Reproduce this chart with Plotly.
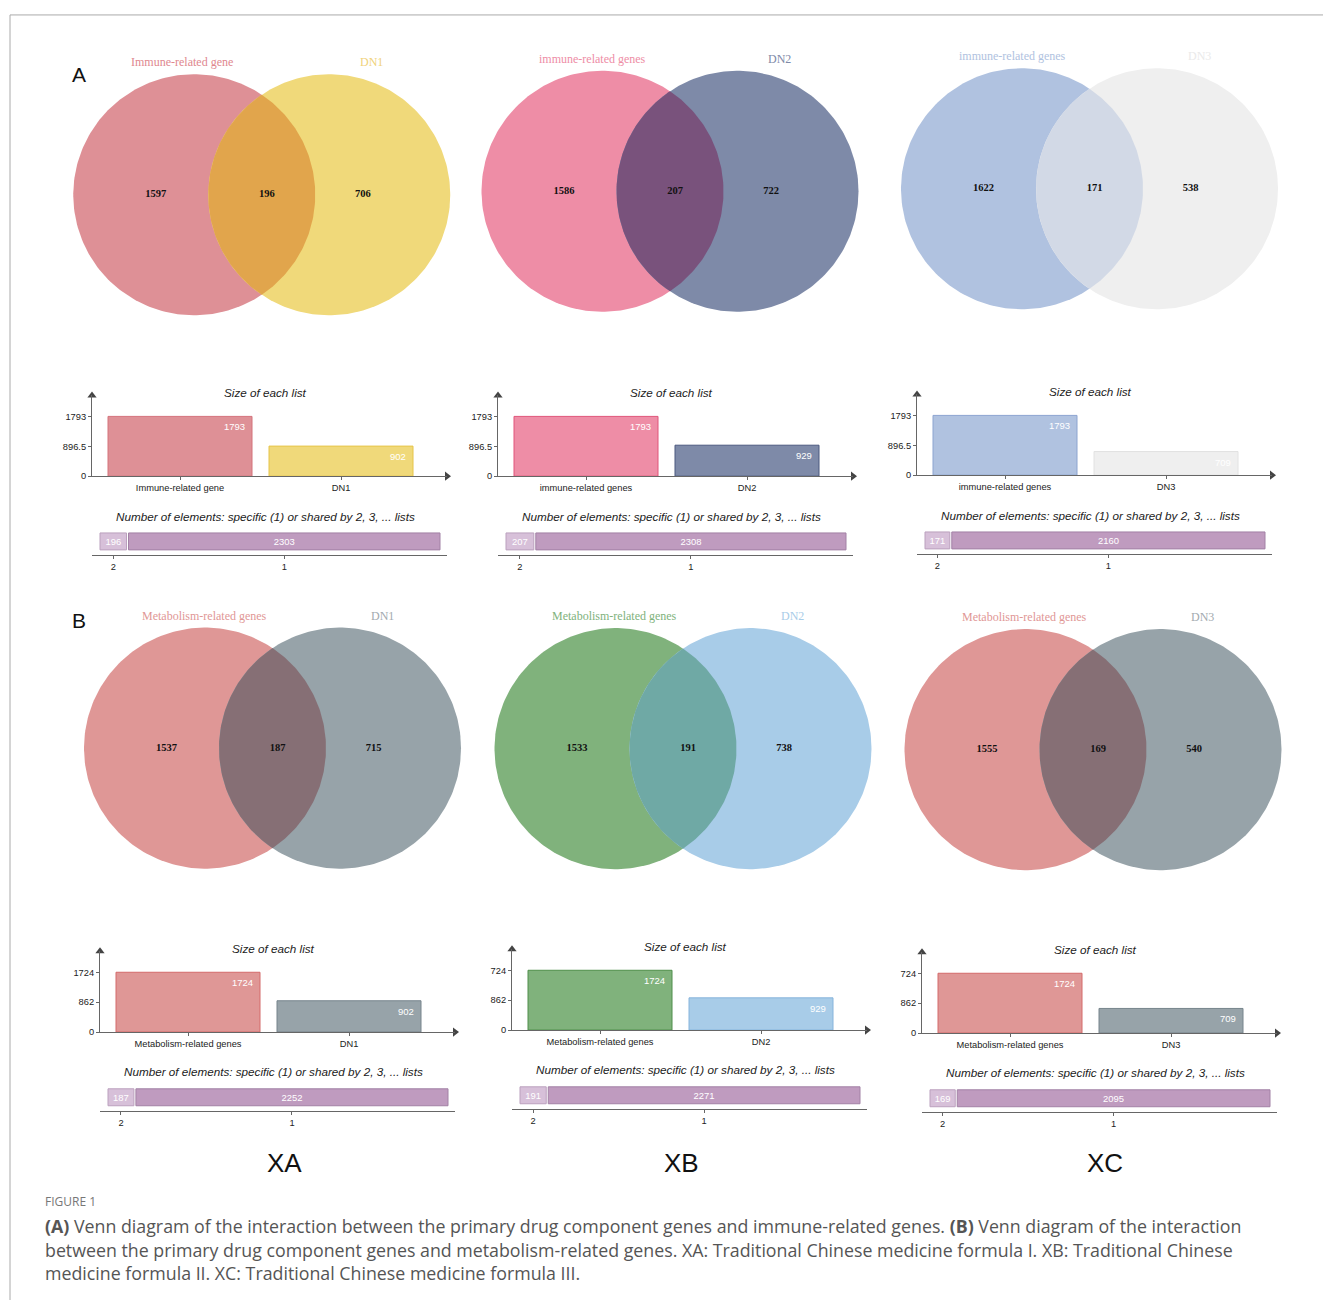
import numpy as np
import plotly.graph_objects as go

W, H = 1323, 1305

# ---------------- data ----------------
left_names = ["Immune-related gene", "immune-related genes", "immune-related genes",
              "Metabolism-related genes", "Metabolism-related genes", "Metabolism-related genes"]
right_names = ["DN1", "DN2", "DN3", "DN1", "DN2", "DN3"]
left_only = [1597, 1586, 1622, 1537, 1533, 1555]
shared = [196, 207, 171, 187, 191, 169]
right_only = [706, 722, 538, 715, 738, 540]
left_size = [1793, 1793, 1793, 1724, 1724, 1724]
right_size = [902, 929, 709, 902, 929, 709]
specific_count = [2303, 2308, 2160, 2252, 2271, 2095]
shared2_count = [196, 207, 171, 187, 191, 169]
ytick_vals = [[0, 896.5, 1793], [0, 896.5, 1793], [0, 896.5, 1793],
              [0, 862, 1724], [0, 862, 1724], [0, 862, 1724]]
ytick_text = [["0", "896.5", "1793"], ["0", "896.5", "1793"], ["0", "896.5", "1793"],
              ["0", "862", "1724"], ["0", "862", "724"], ["0", "862", "724"]]
count_tick_text = ["2", "1"]
group_labels = ["XA", "XB", "XC"]
panel_letters = ["A", "B"]

# ---------------- styles ----------------
c_left = ["#DE9096", "#EE8DA6", "#B0C2E0", "#DF9796", "#80B27C", "#DF9796"]
c_right = ["#F0D97A", "#7E8AA8", "#EFEFEF", "#97A3A9", "#A8CCE8", "#97A3A9"]
c_lens = ["#E1A54C", "#79527C", "#D2D9E6", "#866F75", "#6FA9A5", "#866F75"]
c_left_lab = ["#E0878E", "#EE8DA6", "#B0C2E0", "#DF9796", "#80B27C", "#DF9796"]
c_right_lab = ["#F0D27A", "#7E8AA8", "#EAEAEA", "#A2AAAF", "#A8CCE8", "#A2AAAF"]
c_left_line = ["#D4737B", "#E0557A", "#8CA4D0", "#D46A6A", "#4E8E4A", "#D46A6A"]
c_right_line = ["#E6C449", "#4A587E", "#E2E2E2", "#76848C", "#86B4DC", "#76848C"]
seg_fill = ["#D7C0D9", "#BF9BBF"]
seg_line = ["#BBA0BE", "#A281A5"]

venn_mid = [261.75, 670, 1089.5, 272.5, 683, 1093]
venn_cy = [195.5, 192, 189.5, 751, 751.5, 752.5]
bar_x0 = [92, 498, 917, 100, 512, 922]
bar_y0 = [478, 478, 477, 1036, 1034, 1037]
R, D = 121.0, 135.0

SANS = "Liberation Sans, Arial, sans-serif"
SERIF = "Liberation Serif, Times New Roman, serif"
AX = "#666666"

def px_x(p):
    return p / W

def px_y(p):
    return 1 - p / H

fig = go.Figure()
layout = {}
annotations = []
k = [0]

def new_axes():
    k[0] += 1
    n = k[0]
    xa = "xaxis" if n == 1 else f"xaxis{n}"
    ya = "yaxis" if n == 1 else f"yaxis{n}"
    xr = "x" if n == 1 else f"x{n}"
    yr = "y" if n == 1 else f"y{n}"
    return xa, ya, xr, yr

t = np.linspace(0, 2 * np.pi, 240)
a = np.arccos((D / 2) / R)

for i in range(6):
    # ---------------- Venn ----------------
    xa, ya, xr, yr = new_axes()
    mid, cy = venn_mid[i], venn_cy[i]
    layout[xa] = dict(domain=[px_x(mid - 200), px_x(mid + 200)], range=[-200, 200],
                      visible=False, fixedrange=True, anchor=yr)
    layout[ya] = dict(domain=[px_y(cy + 150), px_y(cy - 150)], range=[-150, 150],
                      visible=False, fixedrange=True, anchor=xr)
    for cx, col in [(-D / 2, c_left[i]), (D / 2, c_right[i])]:
        fig.add_trace(go.Scatter(x=cx + R * np.cos(t), y=R * np.sin(t), mode="lines",
                                 fill="toself", fillcolor=col, line=dict(width=0),
                                 hoverinfo="skip", showlegend=False, xaxis=xr, yaxis=yr))
    t1 = np.linspace(-a, a, 120)
    t2 = np.linspace(np.pi - a, np.pi + a, 120)
    lx = np.concatenate([-D / 2 + R * np.cos(t1), D / 2 + R * np.cos(t2)])
    ly = np.concatenate([R * np.sin(t1), R * np.sin(t2)])
    fig.add_trace(go.Scatter(x=lx, y=ly, mode="lines", fill="toself", fillcolor=c_lens[i],
                             line=dict(width=0), hoverinfo="skip", showlegend=False,
                             xaxis=xr, yaxis=yr))
    fig.add_trace(go.Scatter(x=[-106, 5, 101], y=[0, 0, 0], mode="text",
                             text=[f"<b>{left_only[i]}</b>", f"<b>{shared[i]}</b>",
                                   f"<b>{right_only[i]}</b>"],
                             textfont=dict(family=SERIF, size=10.5, color="#111111"),
                             textposition="middle center", hoverinfo="skip",
                             showlegend=False, xaxis=xr, yaxis=yr))
    annotations.append(dict(x=-133, y=133, xref=xr, yref=yr, text=left_names[i],
                            showarrow=False, xanchor="left", yanchor="middle",
                            font=dict(family=SERIF, size=12, color=c_left_lab[i])))
    annotations.append(dict(x=96, y=133, xref=xr, yref=yr, text=right_names[i],
                            showarrow=False, xanchor="left", yanchor="middle",
                            font=dict(family=SERIF, size=12, color=c_right_lab[i])))

    # ---------------- Size of each list ----------------
    xa, ya, xr, yr = new_axes()
    x0, y0 = bar_x0[i], bar_y0[i]
    sp = 161.0
    bw = 144.0 / sp
    xlo, xhi = -88.0 / sp, (355 - 88.0) / sp
    vmax = ytick_vals[i][-1]
    yhi = vmax * 81.0 / 60.0
    layout[xa] = dict(domain=[px_x(x0), px_x(x0 + 355)], range=[xlo, xhi], anchor=yr,
                      showline=True, linecolor=AX, linewidth=1, showgrid=False,
                      zeroline=False, ticks="outside", ticklen=3, tickcolor=AX,
                      tickvals=[0, 1], ticktext=[left_names[i], right_names[i]],
                      tickfont=dict(family=SANS, size=9.3, color="#222222"), fixedrange=True)
    layout[ya] = dict(domain=[px_y(y0), px_y(y0 - 81)], range=[0, yhi], anchor=xr,
                      showline=True, linecolor=AX, linewidth=1, showgrid=False,
                      zeroline=False, ticks="outside", ticklen=3, tickcolor=AX,
                      tickvals=ytick_vals[i], ticktext=ytick_text[i],
                      tickfont=dict(family=SANS, size=9.3, color="#222222"), fixedrange=True)
    fig.add_trace(go.Bar(x=[0, 1], y=[left_size[i], right_size[i]], width=bw,
                         marker=dict(color=[c_left[i], c_right[i]],
                                     line=dict(color=[c_left_line[i], c_right_line[i]], width=1)),
                         hoverinfo="skip", showlegend=False, xaxis=xr, yaxis=yr))
    fig.add_trace(go.Scatter(x=[xhi, xlo], y=[0, yhi], mode="markers",
                             marker=dict(symbol=["triangle-right", "triangle-up"], size=8,
                                         color="#444444"),
                             cliponaxis=False, hoverinfo="skip", showlegend=False,
                             xaxis=xr, yaxis=yr))
    for j, v in enumerate([left_size[i], right_size[i]]):
        annotations.append(dict(x=j + bw / 2, y=v, xref=xr, yref=yr, text=str(v),
                                showarrow=False, xanchor="right", yanchor="top",
                                xshift=-5, yshift=-3,
                                font=dict(family=SANS, size=9.5, color="#FFFFFF")))
    annotations.append(dict(x=px_x(x0 + 173), y=px_y(y0 - 84), xref="paper", yref="paper",
                            text="<i>Size of each list</i>", showarrow=False,
                            xanchor="center", yanchor="middle",
                            font=dict(family=SANS, size=11.7, color="#222222")))

    # ---------------- Number of elements ----------------
    xa, ya, xr, yr = new_axes()
    v1, v2 = shared2_count[i], specific_count[i]
    s = (348 - 8 - 2) / (v1 + v2)
    gap = 2 / s
    b2 = v1 + gap
    layout[xa] = dict(domain=[px_x(x0), px_x(x0 + 355)], range=[-8 / s, 347 / s], anchor=yr,
                      showline=True, linecolor=AX, linewidth=1, showgrid=False,
                      zeroline=False, ticks="outside", ticklen=3, tickcolor=AX,
                      tickvals=[v1 / 2, b2 + v2 / 2], ticktext=count_tick_text,
                      tickfont=dict(family=SANS, size=9.3, color="#222222"), fixedrange=True)
    layout[ya] = dict(domain=[px_y(y0 + 79), px_y(y0 + 52)], range=[-0.5, 0.5], anchor=xr,
                      visible=False, fixedrange=True)
    for base, val, fc, lc in [(0, v1, seg_fill[0], seg_line[0]), (b2, v2, seg_fill[1], seg_line[1])]:
        fig.add_trace(go.Bar(y=[0], x=[val], base=[base], orientation="h", width=0.63,
                             marker=dict(color=fc, line=dict(color=lc, width=1)),
                             text=[str(val)], textposition="inside", insidetextanchor="middle",
                             textangle=0, textfont=dict(family=SANS, size=9.5, color="#FFFFFF"),
                             hoverinfo="skip", showlegend=False, xaxis=xr, yaxis=yr))
    annotations.append(dict(x=px_x(x0 + 173), y=px_y(y0 + 40), xref="paper", yref="paper",
                            text="<i>Number of elements: specific (1) or shared by 2, 3, ... lists</i>",
                            showarrow=False, xanchor="center", yanchor="middle",
                            font=dict(family=SANS, size=11.7, color="#222222")))

# panel letters
for lab, py in zip(panel_letters, [75, 623]):
    annotations.append(dict(x=px_x(70), y=px_y(py), xref="paper", yref="paper", text=lab,
                            showarrow=False, xanchor="left", yanchor="middle",
                            font=dict(family=SANS, size=21, color="#111111")))
# group labels
for lab, px in zip(group_labels, [284, 682, 1105]):
    annotations.append(dict(x=px_x(px), y=px_y(1167), xref="paper", yref="paper", text=lab,
                            showarrow=False, xanchor="center", yanchor="middle",
                            font=dict(family=SANS, size=26, color="#111111")))

# caption
CAP = "Open Sans, Noto Sans, sans-serif"
annotations.append(dict(x=px_x(43), y=px_y(1206), xref="paper", yref="paper", text="FIGURE 1",
                        showarrow=False, xanchor="left", yanchor="middle",
                        font=dict(family=CAP, size=12, color="#777777")))
cap_lines = [
    "<b>(A)</b> Venn diagram of the interaction between the primary drug component genes and immune-related genes. <b>(B)</b> Venn diagram of the interaction",
    "between the primary drug component genes and metabolism-related genes. XA: Traditional Chinese medicine formula I. XB: Traditional Chinese",
    "medicine formula II. XC: Traditional Chinese medicine formula III.",
]
for line, py in zip(cap_lines, [1231, 1255, 1278]):
    annotations.append(dict(x=px_x(43), y=px_y(py), xref="paper", yref="paper", text=line,
                            showarrow=False, xanchor="left", yanchor="middle",
                            font=dict(family=CAP, size=17.8, color="#555555")))

shapes = [
    dict(type="line", xref="paper", yref="paper", x0=px_x(10), x1=1, y0=px_y(15), y1=px_y(15),
         line=dict(color="#AAAAAA", width=1)),
    dict(type="line", xref="paper", yref="paper", x0=px_x(10), x1=px_x(10), y0=px_y(15), y1=0,
         line=dict(color="#AAAAAA", width=1)),
]

fig.update_layout(width=W, height=H, autosize=False, margin=dict(l=0, r=0, t=0, b=0),
                  paper_bgcolor="white", plot_bgcolor="rgba(0,0,0,0)",
                  showlegend=False, annotations=annotations, shapes=shapes,
                  barmode="overlay", **layout)

fig.write_html("out.html", config={"displayModeBar": False},
               post_script="document.body.style.margin='0';document.body.style.overflow='hidden';")
